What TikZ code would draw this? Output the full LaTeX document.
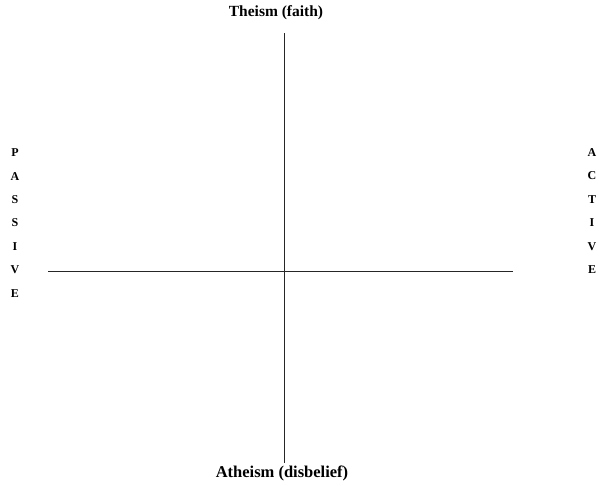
\documentclass[tikz,border=0pt]{standalone}
\usepackage{fontspec}
\setmainfont{Liberation Serif}
\usetikzlibrary{positioning}
\tikzset{
    axislabel/.style={font=\bfseries\fontsize{15.5}{17}\selectfont, inner sep=1pt},
    sidelabel/.style={font=\bfseries\fontsize{12}{23.4}\selectfont, align=center, inner sep=0pt},
    axis/.style={draw=black!85, line width=0.9pt}
}
\begin{document}
\begin{tikzpicture}[x=1pt,y=-1pt]
        \useasboundingbox (0,0) rectangle (599,485);
        \node[axislabel] (theism) at (276,13) {Theism (faith)};
        \node[axislabel,font=\bfseries\fontsize{16.5}{18}\selectfont] (atheism) at (282,473) {Atheism (disbelief)};
        \node[sidelabel] (passive) at (15,223) {P\\A\\S\\S\\I\\V\\E};
        \node[sidelabel] (active) at (592,211) {A\\C\\T\\I\\V\\E};
        \coordinate (top) at (284,33);
        \coordinate (bottom) at (284,463);
        \coordinate (left) at (48,271);
        \coordinate (right) at (513,271);
        \draw[axis] (top) -- (bottom);
        \draw[axis] (left) -- (right);
    \end{tikzpicture}
\end{document}
